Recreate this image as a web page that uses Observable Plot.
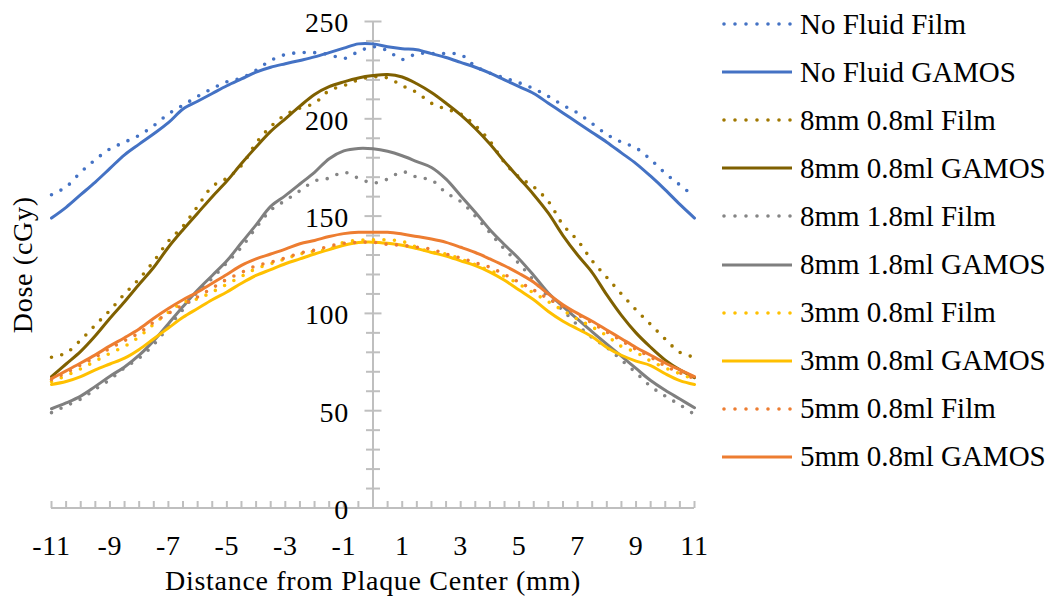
<!DOCTYPE html>
<html>
<head>
<meta charset="utf-8">
<script src="https://cdn.jsdelivr.net/npm/d3@7"></script>
<script src="https://cdn.jsdelivr.net/npm/@observablehq/plot@0.6"></script>
<style>
  html, body { margin: 0; padding: 0; background: #fff; }
  #wrap { position: relative; width: 1053px; height: 600px; font-family: "Liberation Serif", "Times New Roman", serif; }
  #wrap svg text { letter-spacing: 0.7px; }
  #legend { position: absolute; left: 722px; top: 0px; }
  .row { height: 48.1px; display: flex; align-items: center; }
  .row span { margin-left: 8px; font-size: 29px; color: #000; white-space: nowrap; }
</style>
</head>
<body>
<div id="wrap"><div id="legend"></div></div>
<script>
// Distance from plaque center (mm)
const xValues = [-11,-10.5,-10,-9.5,-9,-8.5,-8,-7.5,-7,-6.5,-6,-5.5,-5,-4.5,-4,-3.5,-3,-2.5,-2,-1.5,-1,-0.5,0,0.5,1,1.5,2,2.5,3,3.5,4,4.5,5,5.5,6,6.5,7,7.5,8,8.5,9,9.5,10,10.5,11];

// Dose (cGy)
const noFluidFilm  = [161,165,172.5,179,184.5,188,191.5,196.5,202.5,207, 211.5,215.5,219,221,225,230,233,234,234,233, 231,234.5,237,235,230.5,233.5,233.5,233.5,233,227, 223.5,221,218.5,215.5,211.5,207,203,197.5,192,188, 185,179,172,166,160];
const noFluidGamos = [149,154.5,161,167.5,174.5,181.5,187,192.3,198,205, 209,213,217,220.5,224,226.5,228.3,230,231.8,234, 236.3,238.5,238.5,237,236,235.5,233.5,231.5,229,226.5, 223.5,220,216.5,213,208,203,198,193,188,182.5, 177,170.5,163.5,156,149];
const mm8v08Film   = [77.5,79.7,86.3,94,101.6,110,117.8,126.8,137.1,144.8, 155,165.2,169.5,176,187.5,196,202,205.5,208,214.5, 217,220,221.5,221,217,213.5,208,205,202.5,196.5, 188.5,177.5,170,165,157.5,145.5,137.5,127,118.5,110, 101.8,94.3,86.8,80,77.5];
const mm8v08Gamos  = [67.5,74,80.5,88.5,97.5,106,115,123.7,134,143, 151.5,160,168,177,185.5,193.5,200,206.5,212.5,216.5, 219,221,222.2,222.8,221.5,218,213.5,208,202,195, 187,178,169.5,161,151.5,140,130,121,109.5,99, 90,82.6,76,71,67];
const mm8v18Film   = [49,52.5,56,61,66,72,77,84,93,102, 111,118,126,134,144,153,158,163,168,169.5, 172.5,169.5,167,169,172.8,170,168.5,162,157.5,150, 141.5,133,125.5,117,108.5,101.5,94,87.5,82.5,76, 69.5,62.5,57.5,53,48];
const mm8v18Gamos  = [51,54,57.5,62.5,67.7,72.5,78.5,86,94.7,103.5, 112,119.5,127,136.3,145.5,155,160.5,166.5,172.5,179.5, 183.5,184.8,184.6,183.3,181,178,175,169,160.5,152, 143,135.3,128,119.5,110.5,103.5,97,90.5,84.2,78, 71.7,65.5,60.5,56,51.5];
const mm3v08Film   = [65,68,71.5,75.5,79.5,83,88,94.5,100.5,105.5, 107.5,111,115,119,123,125.5,128,130.5,132,133, 136.5,137.5,137.8,137.8,137,134,131.5,130.5,128,125, 122,119,115,110.5,106,101.5,97,93,88.5,83, 80,75.5,72,69,66];
const mm3v08Gamos  = [63.5,65,67.5,71,74,77,81.5,87,92.5,98, 102.5,107,111,115.5,119.5,122.5,125.5,128,130.5,132.8, 135,136.4,136.6,136,135,133.3,131.3,129.5,127,124.5, 121.2,117,112,107,101,96,92,88,82.5,78.5, 75.5,73.2,69,65.5,63.5];
const mm5v08Film   = [66,69.5,73.5,77.5,82,86,90,95.5,100,104.5, 108.5,113,117.5,121,124.5,126.3,128.5,131,132.5,134.5, 136,136.5,136.6,135.5,135,134,133,130.5,128.5,126, 123.7,120,116,112,107.5,103.5,99.5,95,90.5,86, 81.5,77.5,73,69.5,66.5];
const mm5v08Gamos  = [66.5,70.5,74.5,78.7,83.3,87.5,92,97.5,102.5,107, 111,115.5,120,124.7,128,130.5,133,135.8,137.5,139.5, 141,141.7,141.7,141.7,140.8,139.5,138.2,136.5,134,131.3, 128,124.5,120.5,116,110,104.5,100,96,91.5,87, 82.5,78.5,74.5,71,67.5];

const seriesNames = ["No Fluid Film","No Fluid GAMOS","8mm 0.8ml Film","8mm 0.8ml GAMOS","8mm 1.8ml Film","8mm 1.8ml GAMOS","3mm 0.8ml Film","3mm 0.8ml GAMOS","5mm 0.8ml Film","5mm 0.8ml GAMOS"];
const seriesValues = [noFluidFilm,noFluidGamos,mm8v08Film,mm8v08Gamos,mm8v18Film,mm8v18Gamos,mm3v08Film,mm3v08Gamos,mm5v08Film,mm5v08Gamos];

// tick labels
const yTickLabels = [0,50,100,150,200,250];
const yMinorTicks = [10,20,30,40,60,70,80,90,110,120,130,140,160,170,180,190,210,220,230,240];
const xTickLabels = [-11,-9,-7,-5,-3,-1,1,3,5,7,9,11];
const xTickMarks = xValues;

// styles
const seriesColors = ["#4472C4","#4472C4","#A07800","#7F6000","#858585","#7F7F7F","#FFC000","#FFC000","#ED7D31","#ED7D31"];
const seriesDotted = [true,false,true,false,true,false,true,false,true,false];
const axisColor = "#BFBFBF";
const font = "'Liberation Serif', 'Times New Roman', serif";

const hTick = (half) => ({draw(ctx) { ctx.moveTo(-half, 0); ctx.lineTo(half, 0); }});
const vTickUp = (len) => ({draw(ctx) { ctx.moveTo(0, 0); ctx.lineTo(0, -len); }});

const lineMarks = seriesNames.map((name, i) => {
  const rows = xValues.map((x, j) => ({x, dose: seriesValues[i][j], series: name}));
  return Plot.line(rows, {
    x: "x", y: "dose",
    stroke: seriesColors[i],
    strokeWidth: seriesDotted[i] ? 3.6 : 3,
    strokeDasharray: seriesDotted[i] ? "0 10.5" : null,
    strokeLinecap: "round",
    strokeLinejoin: "round",
    curve: "catmull-rom"
  });
});

const chart = Plot.plot({
  width: 1053,
  height: 600,
  marginLeft: 51,
  marginRight: 359,
  marginTop: 21,
  marginBottom: 92.5,
  x: {domain: [-11, 11], axis: null},
  y: {domain: [0, 250], axis: null},
  style: {fontFamily: font, background: "white", color: "black", overflow: "visible"},
  marks: [
    Plot.ruleY([0], {x1: -11, x2: 11, stroke: axisColor, strokeWidth: 2}),
    Plot.ruleX([0], {y1: 0, y2: 250, stroke: axisColor, strokeWidth: 2}),
    Plot.dot(xTickMarks, {x: d => d, y: () => 0, symbol: vTickUp(7), r: 3, fill: "none", stroke: axisColor, strokeWidth: 2}),
    Plot.dot(yMinorTicks, {x: () => 0, y: d => d, symbol: hTick(7), r: 3, fill: "none", stroke: axisColor, strokeWidth: 2}),
    Plot.dot(yTickLabels, {x: () => 0, y: d => d, symbol: hTick(8.5), r: 3, fill: "none", stroke: axisColor, strokeWidth: 2}),
    ...lineMarks,
    Plot.text(yTickLabels, {x: () => 0, y: d => d, text: d => String(d), dx: -24, dy: 2, textAnchor: "end", lineAnchor: "middle", fontSize: 28, fill: "black"}),
    Plot.text(xTickLabels, {x: d => d, y: () => 0, text: d => String(d), dy: 38, lineAnchor: "middle", fontSize: 28, fill: "black"}),
    Plot.text(["Distance from Plaque Center (mm)"], {frameAnchor: "bottom", dy: 73, textAnchor: "middle", lineAnchor: "middle", fontSize: 28, fill: "black"}),
    Plot.text(["Dose (cGy)"], {frameAnchor: "left", dx: -28, rotate: -90, textAnchor: "middle", lineAnchor: "middle", fontSize: 28, fill: "black"})
  ]
});
const wrap = document.getElementById("wrap");
wrap.insertBefore(chart, wrap.firstChild);

// legend
const legend = document.getElementById("legend");
seriesNames.forEach((name, i) => {
  const row = document.createElement("div");
  row.className = "row";
  const ns = "http://www.w3.org/2000/svg";
  const svg = document.createElementNS(ns, "svg");
  svg.setAttribute("width", "70");
  svg.setAttribute("height", "12");
  const ln = document.createElementNS(ns, "line");
  ln.setAttribute("x1", seriesDotted[i] ? 2 : 0);
  ln.setAttribute("x2", 70);
  ln.setAttribute("y1", 6);
  ln.setAttribute("y2", 6);
  ln.setAttribute("stroke", seriesColors[i]);
  ln.setAttribute("stroke-width", seriesDotted[i] ? 3.6 : 3);
  ln.setAttribute("stroke-linecap", seriesDotted[i] ? "round" : "butt");
  if (seriesDotted[i]) ln.setAttribute("stroke-dasharray", "0 11");
  svg.appendChild(ln);
  const span = document.createElement("span");
  span.textContent = name;
  row.appendChild(svg);
  row.appendChild(span);
  legend.appendChild(row);
});
</script>
</body>
</html>
